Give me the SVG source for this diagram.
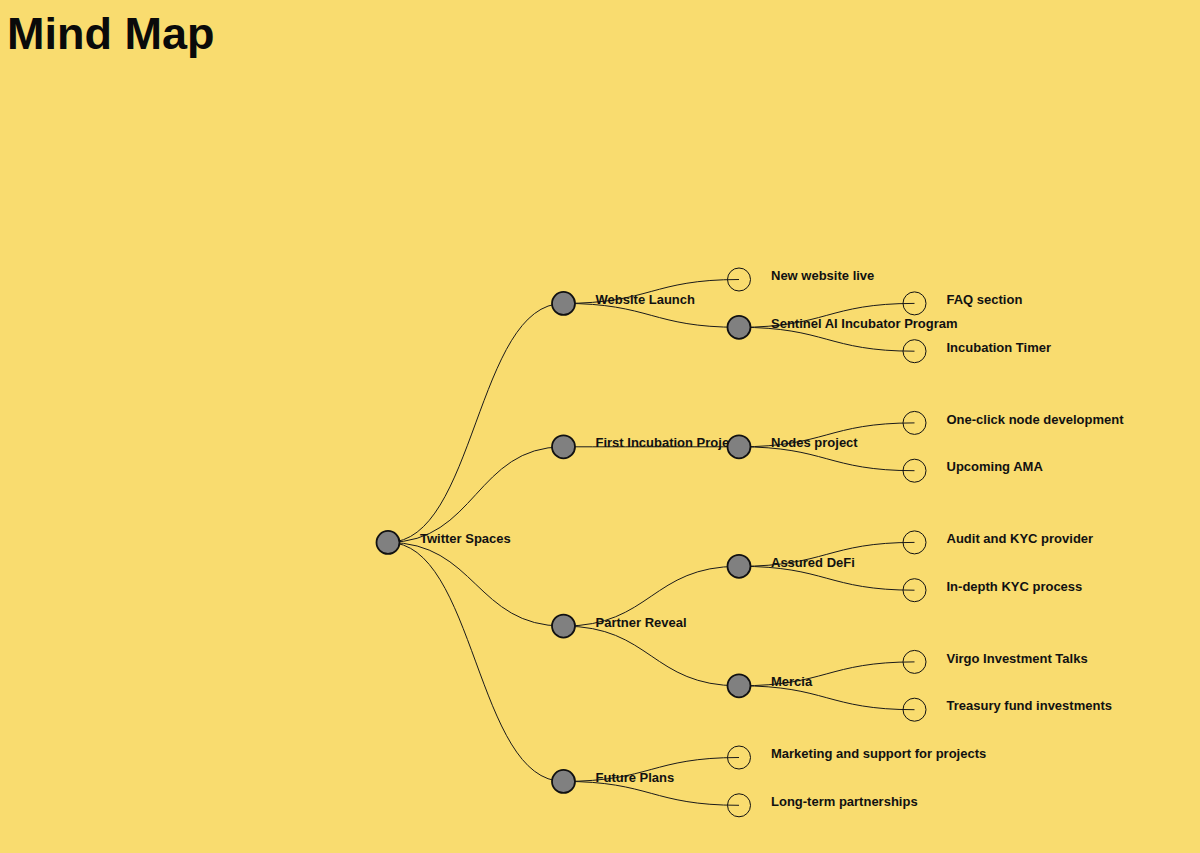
<svg xmlns="http://www.w3.org/2000/svg" width="1200" height="853" viewBox="0 0 1200 853">
<style>
.bg{fill:#F9DC6F}
.title{font-family:"Liberation Sans",Arial,sans-serif;font-weight:bold;font-size:45px;fill:#0a0a0a}
.link{fill:none;stroke:#1a1a1a;stroke-width:1}
.inner circle{fill:#808080;stroke:#111;stroke-width:1.8}
.leaf circle{fill:none;stroke:#111;stroke-width:1}
text.lbl{font-family:"Liberation Sans",Arial,sans-serif;font-weight:bold;font-size:13px;fill:#111}
</style>
<rect class="bg" x="0" y="0" width="1200" height="853"/>
<text class="title" x="7" y="49">Mind Map</text>
<g transform="translate(0,1)">
<g id="connectors">
<path class="link" d="M388,541.4C475.75,541.4 475.75,302.4 563.5,302.4"/>
<path class="link" d="M388,541.4C475.75,541.4 475.75,445.8 563.5,445.8"/>
<path class="link" d="M388,541.4C475.75,541.4 475.75,625.1 563.5,625.1"/>
<path class="link" d="M388,541.4C475.75,541.4 475.75,780.4 563.5,780.4"/>
<path class="link" d="M563.5,302.4C651.25,302.4 651.25,278.5 739,278.5"/>
<path class="link" d="M563.5,302.4C651.25,302.4 651.25,326.3 739,326.3"/>
<path class="link" d="M563.5,445.8C651.25,445.8 651.25,445.8 739,445.8"/>
<path class="link" d="M563.5,625.1C651.25,625.1 651.25,565.3 739,565.3"/>
<path class="link" d="M563.5,625.1C651.25,625.1 651.25,684.8 739,684.8"/>
<path class="link" d="M563.5,780.4C651.25,780.4 651.25,756.5 739,756.5"/>
<path class="link" d="M563.5,780.4C651.25,780.4 651.25,804.3 739,804.3"/>
<path class="link" d="M739,326.3C826.75,326.3 826.75,302.4 914.5,302.4"/>
<path class="link" d="M739,326.3C826.75,326.3 826.75,350.2 914.5,350.2"/>
<path class="link" d="M739,445.8C826.75,445.8 826.75,421.9 914.5,421.9"/>
<path class="link" d="M739,445.8C826.75,445.8 826.75,469.7 914.5,469.7"/>
<path class="link" d="M739,565.3C826.75,565.3 826.75,541.4 914.5,541.4"/>
<path class="link" d="M739,565.3C826.75,565.3 826.75,589.2 914.5,589.2"/>
<path class="link" d="M739,684.8C826.75,684.8 826.75,660.9 914.5,660.9"/>
<path class="link" d="M739,684.8C826.75,684.8 826.75,708.7 914.5,708.7"/>
</g>
<g id="n-root" class="inner"><circle cx="388" cy="541.4" r="11.5"/><text class="lbl" x="420" y="542">Twitter Spaces</text></g>
<g id="n-website" class="inner"><circle cx="563.5" cy="302.4" r="11.5"/><text class="lbl" x="595.5" y="303">Website Launch</text></g>
<g id="n-first" class="inner"><circle cx="563.5" cy="445.8" r="11.5"/><text class="lbl" x="595.5" y="446.4">First Incubation Project</text></g>
<g id="n-partner" class="inner"><circle cx="563.5" cy="625.1" r="11.5"/><text class="lbl" x="595.5" y="625.7">Partner Reveal</text></g>
<g id="n-future" class="inner"><circle cx="563.5" cy="780.4" r="11.5"/><text class="lbl" x="595.5" y="781">Future Plans</text></g>
<g id="n-newsite" class="leaf"><circle cx="739" cy="278.5" r="11.5"/><text class="lbl" x="771" y="279.1">New website live</text></g>
<g id="n-sentinel" class="inner"><circle cx="739" cy="326.3" r="11.5"/><text class="lbl" x="771" y="326.9">Sentinel AI Incubator Program</text></g>
<g id="n-nodes" class="inner"><circle cx="739" cy="445.8" r="11.5"/><text class="lbl" x="771" y="446.4">Nodes project</text></g>
<g id="n-assured" class="inner"><circle cx="739" cy="565.3" r="11.5"/><text class="lbl" x="771" y="565.9">Assured DeFi</text></g>
<g id="n-mercia" class="inner"><circle cx="739" cy="684.8" r="11.5"/><text class="lbl" x="771" y="685.4">Mercia</text></g>
<g id="n-marketing" class="leaf"><circle cx="739" cy="756.5" r="11.5"/><text class="lbl" x="771" y="757.1">Marketing and support for projects</text></g>
<g id="n-longterm" class="leaf"><circle cx="739" cy="804.3" r="11.5"/><text class="lbl" x="771" y="804.9">Long-term partnerships</text></g>
<g id="n-faq" class="leaf"><circle cx="914.5" cy="302.4" r="11.5"/><text class="lbl" x="946.5" y="303">FAQ section</text></g>
<g id="n-timer" class="leaf"><circle cx="914.5" cy="350.2" r="11.5"/><text class="lbl" x="946.5" y="350.8">Incubation Timer</text></g>
<g id="n-oneclick" class="leaf"><circle cx="914.5" cy="421.9" r="11.5"/><text class="lbl" x="946.5" y="422.5">One-click node development</text></g>
<g id="n-ama" class="leaf"><circle cx="914.5" cy="469.7" r="11.5"/><text class="lbl" x="946.5" y="470.3">Upcoming AMA</text></g>
<g id="n-audit" class="leaf"><circle cx="914.5" cy="541.4" r="11.5"/><text class="lbl" x="946.5" y="542">Audit and KYC provider</text></g>
<g id="n-kyc" class="leaf"><circle cx="914.5" cy="589.2" r="11.5"/><text class="lbl" x="946.5" y="589.8">In-depth KYC process</text></g>
<g id="n-virgo" class="leaf"><circle cx="914.5" cy="660.9" r="11.5"/><text class="lbl" x="946.5" y="661.5">Virgo Investment Talks</text></g>
<g id="n-treasury" class="leaf"><circle cx="914.5" cy="708.7" r="11.5"/><text class="lbl" x="946.5" y="709.3">Treasury fund investments</text></g>
</g>
</svg>
